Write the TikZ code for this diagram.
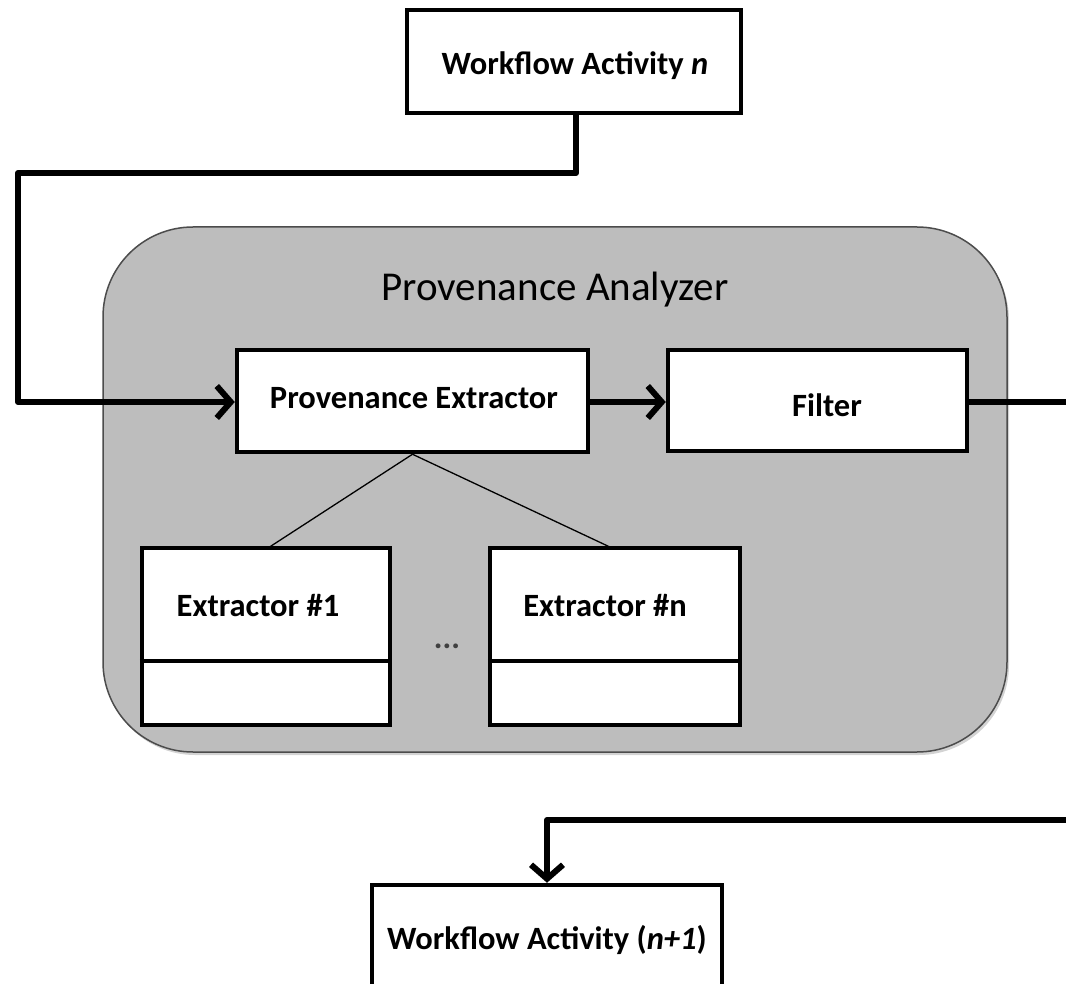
\documentclass[tikz,border=0pt]{standalone}
\usepackage{fontspec}
\setmainfont{Carlito}
\usetikzlibrary{arrows.meta,shadows}
\definecolor{panelgray}{HTML}{BDBDBD}
\tikzset{
  box/.style={draw=black, line width=4.5pt, fill=white, inner sep=0pt, align=center},
  boldtxt/.style={font=\bfseries\fontsize{32.5}{36}\selectfont, inner sep=0pt},
  flow/.style={line width=6pt, line join=round, -{Straight Barb[length=14pt,width=32pt,line width=6pt]}},
  thinline/.style={line width=1.3pt}
}
\begin{document}
\begin{tikzpicture}[x=1pt,y=-1pt]
\useasboundingbox (0,0) rectangle (1066,984);
\clip (0,0) rectangle (1066,984);
% panel
\node[draw=black!70, line width=1.5pt, fill=panelgray, rounded corners=90pt,
      minimum width=904pt, minimum height=525pt, inner sep=0pt,
      drop shadow={shadow xshift=2pt, shadow yshift=-3pt, opacity=0.35}] (panel) at (555,489.5) {};
\node[font=\fontsize{41}{46}\selectfont, inner sep=0pt] (paneltitle) at (555,290) {Provenance Analyzer};
% top activity
\node[box, minimum width=334pt, minimum height=103pt] (wa) at (574,61.5) {};
\node[boldtxt] (watxt) at (575,66) {Workflow Activity \textit{n}};
% extractor
\node[box, minimum width=351pt, minimum height=102pt] (pe) at (412.5,401) {};
\node[boldtxt] (petxt) at (414,398) {Provenance Extractor};
% filter
\node[box, minimum width=299pt, minimum height=101pt] (fi) at (817.5,400.5) {};
\node[boldtxt] (fitxt) at (827,405) {Filter};
% extractor boxes
\node[box, minimum width=248pt, minimum height=177pt] (ex1) at (266,636.5) {};
\node[boldtxt] (ex1txt) at (258,606) {Extractor \#1};
\node[box, minimum width=250pt, minimum height=177pt] (exn) at (615,636.5) {};
\node[boldtxt] (exntxt) at (605,606) {Extractor \#n};
\draw[line width=4.5pt] ([yshift=-24.5pt]ex1.west) -- ([yshift=-24.5pt]ex1.east);
\draw[line width=4.5pt] ([yshift=-24.5pt]exn.west) -- ([yshift=-24.5pt]exn.east);
\node[boldtxt, text=black!75] (dots) at (447,646) {...};
\coordinate (ex1top) at (268,548);
\coordinate (exntop) at (612,548);
\draw[thinline] (pe.south) -- (ex1top);
\draw[thinline] (pe.south) -- (exntop);
% bottom activity
\node[box, minimum width=350pt, minimum height=130pt] (wb) at (547,950) {};
\node[boldtxt] (wbtxt) at (547,940) {Workflow Activity (\textit{n+1})};
% connectors
\coordinate (c1) at (576,173);
\coordinate (c2) at (18,173);
\coordinate (mid) at (0,402);
\draw[flow] (wa.south -| c1) -- (c1) -- (c2) -- (c2 |- mid) -- (pe.west |- mid);
\draw[flow] (pe.east |- mid) -- (fi.west |- mid);
\coordinate (r1) at (1080,402);
\coordinate (r2) at (1080,820);
\coordinate (r3) at (547,820);
\draw[flow] (fi.east |- r1) -- (r1) -- (r2) -- (r3) -- (wb.north);
\end{tikzpicture}
\end{document}
